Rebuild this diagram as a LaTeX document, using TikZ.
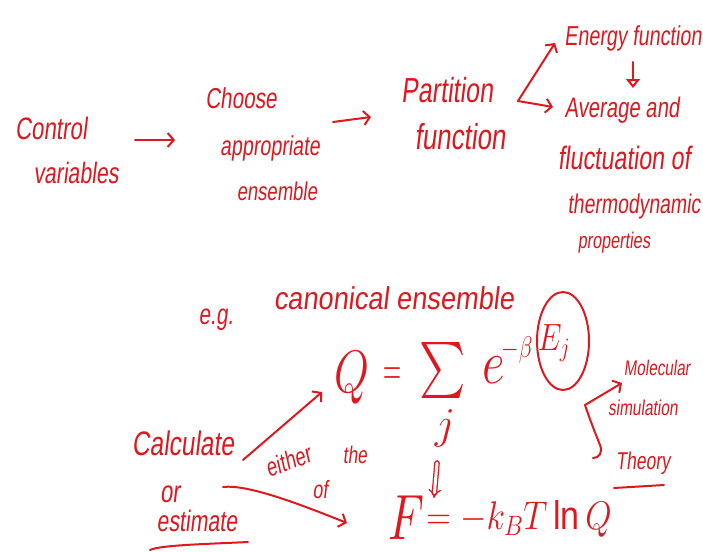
\RequirePackage{fix-cm}
\documentclass[tikz,border=0pt]{standalone}
\usepackage{fontspec}
\setmainfont{Liberation Sans}
\newfontfamily\hand[FakeStretch=0.72,FakeSlant=0.12]{Liberation Sans}
\newfontfamily\handw[FakeStretch=0.86,FakeSlant=0.12]{Liberation Sans}
\usetikzlibrary{arrows.meta,calc}
\definecolor{ink}{RGB}{222,24,30}
\begin{document}
\begin{tikzpicture}[x=1pt,y=-1pt,
  every node/.style={text=ink,inner sep=0pt},
  hw/.style={font=\hand\fontsize{#1}{#1}\selectfont},
  hwl/.style={font=\handw\fontsize{#1}{#1}\selectfont},
  mth/.style={font=\fontsize{#1}{#1}\selectfont},
  ln/.style={draw=ink,line width=2pt,line cap=round,line join=round},
  arr/.style={ln,-{Straight Barb[length=6pt,width=14pt]}},
  tri/.style={ln,-{Triangle[open,length=9pt,width=14pt]}},
  dbl/.style={draw=ink,line width=1.3pt,double distance=3pt,line cap=round,-{Implies[]}}
]
\useasboundingbox (0,0) rectangle (703,551);

% top row
\node[hw=31] (ctrl1) at (51,128) {Control};
\node[hw=29.5] (ctrl2) at (76,173) {variables};
\node[hw=28.8] (ch1) at (241,98) {Choose};
\node[hw=27.4] (ch2) at (270,148) {appropriate};
\node[hw=25.7] (ch3) at (277,191) {ensemble};
\node[hw=34.8] (pa1) at (447,90) {Partition};
\node[hw=36] (pa2) at (460,137) {function};
\node[hw=27.4] (en) at (633,38) {Energy function};
\node[hw=28.2] (av1) at (622,110) {Average and};
\node[hw=32.4] (av2) at (624,158) {fluctuation of};
\node[hw=27] (av3) at (634,207) {thermodynamic};
\node[hw=22.6] (av4) at (614,243) {properties};

\draw[arr] ($(ctrl1)+(84,12)$) -- ($(ch2)+(-95,-8)$);
\draw[arr] ($(ch2)+(63,-26)$) -- ($(pa2)+(-89,-20)$);
\coordinate (vx) at ($(pa1)+(71,11)$);
\draw[arr] (vx) -- ($(en)+(-78,5)$);
\draw[arr] (vx) -- ($(av1)+(-69,-3)$);
\draw[tri] ($(en)+(0,24)$) -- ($(av1)+(11,-22)$);

% example
\node[hw=29] (eg) at (216,320) {e.g.};
\node[hwl=31.6] (can) at (394,298) {canonical ensemble};

\node[mth=60] (Q) at (352,378) {\scalebox{0.75}[1]{$Q$}};
\node[mth=50] (eqs) at (392,377) {\scalebox{0.5}[1]{$=$}};
\node (sum) at (443,370) {\scalebox{4.4}[5.6]{$\sum$}};
\node[mth=44] (jj) at (445,428) {$j$};
\node[mth=62] (ee) at (494,370) {\scalebox{0.8}[1]{$e$}};
\node[mth=30] (mb) at (517,350) {\scalebox{0.75}[1]{$-\beta$}};
\node[mth=38] (Ej) at (554,343) {\scalebox{0.8}[1]{$E_j$}};
\draw[ln] ($(Ej)+(9,-2)$) ellipse [x radius=26, y radius=49];

\node (F) at (406,518) {\scalebox{4.6}[6.4]{$F$}};
\node[mth=40] (Fr) at (519,519) {\scalebox{0.85}[1]{$=-k_B T\ln Q$}};
\draw[dbl] ($(jj)+(-8,35)$) -- ($(Fr)+(-85,-21)$);

% left
\node[hw=34] (calc) at (183,443) {Calculate};
\node[hw=31] (or) at (170,494) {or};
\node[hw=29.6] (est) at (197,521) {estimate};
\node[hw=26,rotate=20] (ei) at (288,461) {either};
\node[hw=25] (of) at (320,490) {of};
\node[hw=24] (the) at (355,455) {the};
\draw[arr] ($(calc)+(60,17)$) -- ($(Q)+(-30,14)$);
\draw[arr] ($(or)+(53,-7)$) .. controls +(25,-3) and +(-45,-18) .. ($(F)+(-59,5)$);
\draw[ln] ($(est)+(-47,29)$) .. controls +(10,-5) and +(-40,2) .. ($(est)+(51,21)$);

% right
\node[hw=21.2] (mol) at (657,368) {Molecular};
\node[hw=21.5] (sim) at (643,408) {simulation};
\node[hw=24.3] (th) at (643,463) {Theory};
\coordinate (bs) at ($(th)+(-58,-58)$);
\draw[arr] (bs) -- ($(mol)+(-35,15)$);
\draw[ln] (bs) .. controls +(5,15) and +(-4,-10) .. ++(15,40) .. controls +(3,8) and +(6,0) .. ++(-7,13);
\draw[ln] ($(th)+(-29,25)$) -- ($(th)+(21,22)$);

\end{tikzpicture}
\end{document}
